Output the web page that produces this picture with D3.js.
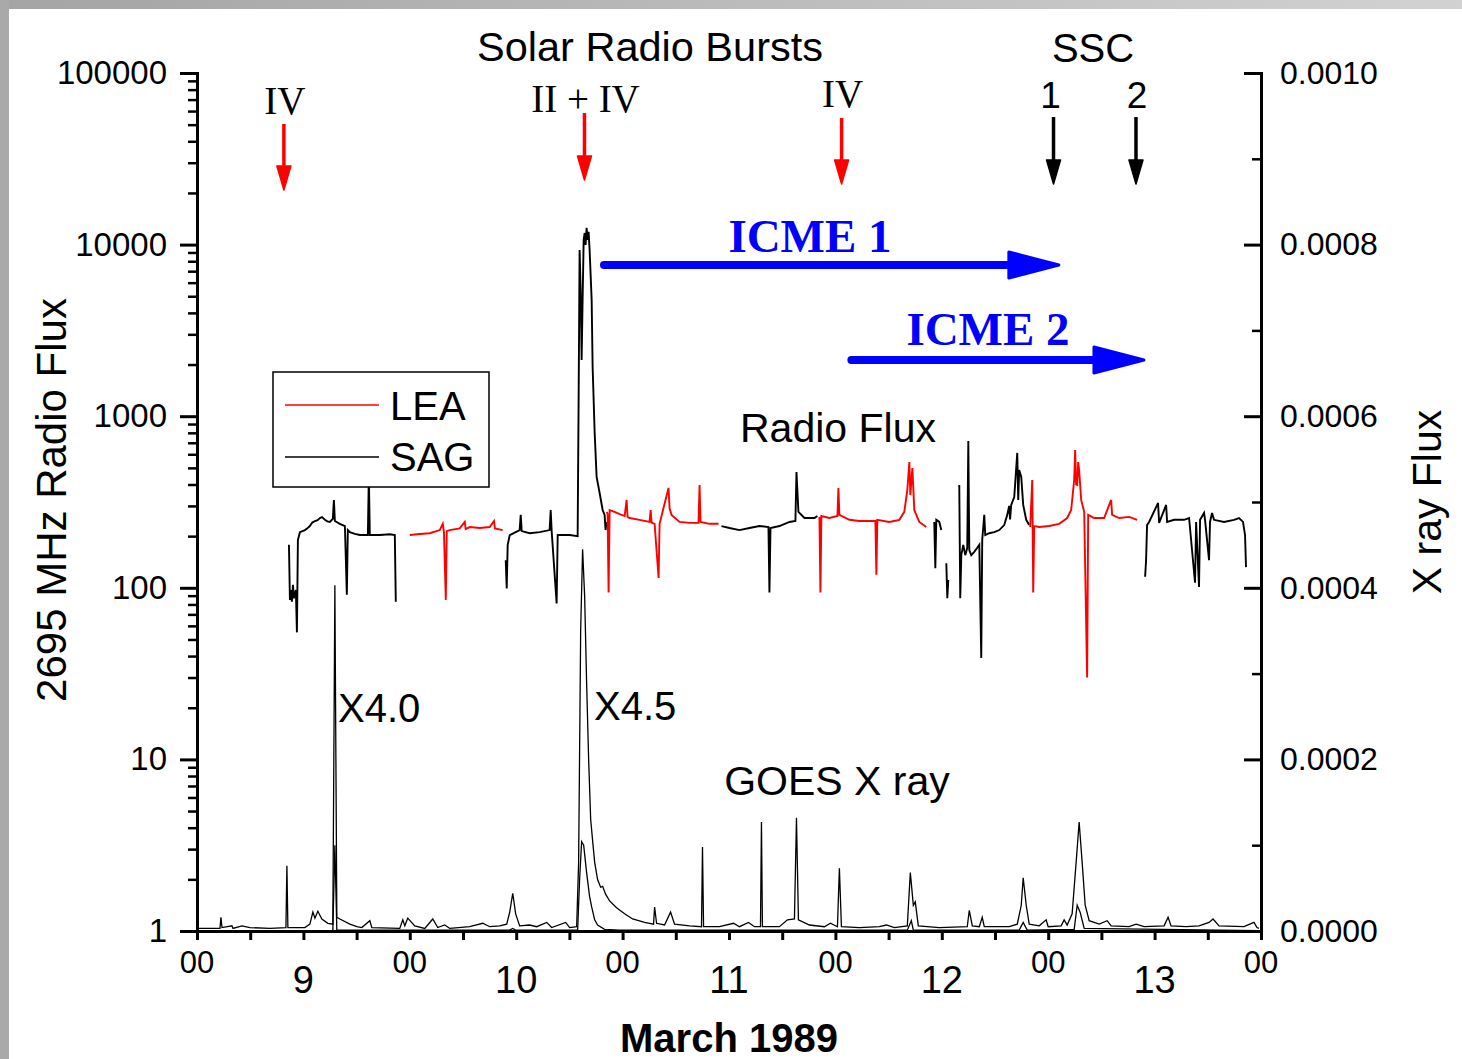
<!DOCTYPE html>
<html>
<head>
<meta charset="utf-8">
<script src="https://cdn.jsdelivr.net/npm/d3@7"></script>
<style>
  body { margin: 0; background: #fff; }
  svg text { font-family: "Liberation Sans", Arial, sans-serif; fill: #000; }
  svg text.serif { font-family: "Liberation Serif", "Times New Roman", serif; }
</style>
</head>
<body>
<svg id="chart"></svg>
<script>
// hours since 1989-03-08 00 UT, 2695 MHz flux (sfu)
const sagSegments = [
  [[10.37,178],[10.48,85],[10.59,97],[10.70,83],[10.82,104],[10.93,87],[11.15,97],[11.27,55],[11.38,190],[11.61,211],
   [12.17,217],[12.45,222],[12.73,229],[13.0,240],[13.30,245],[13.6,248],[13.86,255],[14.1,258],[14.42,249],[14.7,244],
   [14.99,242],[15.32,252],[15.44,325],[15.55,245],[16.11,236],[16.68,229],[16.90,91],[17.01,217],[17.24,211],[17.80,206],
   [18.37,203],[19.27,203],[19.38,450],[19.49,203],[20.62,203],[21.75,205],[22.31,203],[22.42,83]],
  [[34.82,145],[34.93,99],[35.04,178],[35.27,203],[36.39,217],[36.51,266],[36.62,214],[37.52,208],[38.65,211],[39.77,217],
   [39.89,284],[40.00,214],[40.56,81],[40.68,203],[42.03,203],[42.93,200],[43.04,1243],[43.15,9300],[43.27,5435],[43.38,2128],
   [43.49,4750],[43.61,10650],[43.72,11690],[43.83,9950],[43.94,12530],[44.06,10650],[44.17,11880],[44.28,9300],[44.51,4750],
   [44.62,1936],[44.85,798],[45.07,443],[45.41,357],[45.75,284],[45.97,266],[46.08,217],[46.20,242]],
  [[59.15,229],[60.06,223],[61.18,217],[62.31,223],[63.44,229],[64.45,226],[64.56,94],[64.68,223],[65.69,229],[66.82,242],
   [67.49,245],[67.61,473],[67.83,277],[68.51,255],[69.63,255],[69.97,262]],
  [[83.15,242],[83.27,130],[83.38,249],[83.72,242],[83.94,217]],
  [[84.51,139],[84.62,87],[84.73,111]],
  [[85.97,397],[86.08,87],[86.20,155],[86.42,178],[86.65,155],[86.87,171],[86.99,718],[87.10,166],[87.32,155],[87.66,162],
   [88.00,171],[88.23,178],[88.45,39],[88.56,190],[88.79,266],[88.90,203],[89.35,208],[89.92,211],[90.48,217],[91.04,232],
   [91.38,266],[91.6,300],[91.7,250],[91.83,304],[92.17,338],[92.51,611],[92.62,325],[92.73,486],[92.96,443],[93.18,304],
   [93.52,249],[93.86,232]],
  [[106.93,116],[107.04,145],[107.15,232],[107.38,242],[108.39,312],[108.51,239],[109.30,304],[109.41,242],[110.20,249],
   [111.32,249],[111.89,255],[112.56,107],[112.68,242],[113.01,101],[113.13,249],[113.58,273],[113.69,249],[114.14,145],
   [114.25,242],[114.48,273],[114.70,249],[115.83,242],[116.96,249],[117.52,255],[117.97,242],[118.20,203],[118.31,132]]
];

const leaSegments = [
  [[24.00,203],[25.13,206],[26.25,208],[27.38,217],[27.72,236],[27.85,211],[28.06,85],[28.17,214],[28.51,217],[29.63,222],
   [30.20,242],[30.30,220],[30.76,226],[31.89,223],[33.01,226],[33.50,245],[33.60,222],[34.48,217]],
  [[46.20,277],[46.31,270],[46.42,94],[46.54,284],[47.10,277],[47.66,269],[48.23,262],[48.45,325],[48.56,259],[48.79,255],
   [49.92,249],[51.04,242],[51.16,284],[51.27,240],[51.61,236],[52.06,114],[52.17,236],[53.18,382],[53.30,290],[53.52,266],
   [54.42,242],[55.55,239],[56.56,239],[56.68,397],[56.79,242],[57.80,236],[58.82,236]],
  [[70.20,259],[70.31,94],[70.42,262],[71.32,255],[72.23,262],[72.34,382],[72.45,266],[73.58,249],[74.70,245],[75.83,245],
   [76.51,245],[76.62,119],[76.73,249],[78.08,242],[79.21,249],[79.77,277],[80.11,371],[80.34,541],[80.45,347],[80.68,499],
   [80.90,284],[81.46,242],[82.25,226]],
  [[93.97,226],[94.20,425],[94.31,94],[94.42,229],[94.99,226],[96.11,229],[97.24,236],[98.14,255],[98.59,284],[98.93,425],
   [99.04,635],[99.15,400],[99.27,397],[99.38,540],[99.49,486],[99.72,325],[100.06,277],[100.39,30],[100.51,266],[101.18,255],
   [102.31,255],[103.10,325],[103.21,266],[104.00,255],[105.13,259],[106.03,249]]
];

// GOES X-ray flux (W/m2), long and short channel
const goesLong = [
  [0,3e-6],[2.03,3e-6],[2.59,3e-6],[2.70,1.6e-5],[2.82,4e-6],[3.94,6e-6],[4.06,3e-6],[5.07,6e-6],[5.97,4e-6],[8.23,3e-6],
  [10.03,4e-6],[10.14,7.6e-5],[10.25,4e-6],[12.17,4e-6],[12.73,8e-6],[13.07,2.2e-5],[13.30,1.5e-5],[13.63,2.3e-5],[14.08,1.4e-5],
  [14.76,9e-6],[15.32,8e-6],[15.55,4.03e-4],[15.77,1.6e-5],[16.11,1.4e-5],[17.24,8e-6],[18.03,5e-6],[18.59,4e-6],[19.49,1.2e-5],
  [19.72,4e-6],[22.87,3e-6],[23.21,1.3e-5],[23.44,6e-6],[23.77,1.5e-5],[24.56,6e-6],[25.69,3e-6],[26.59,1.4e-5],[27.15,4e-6],
  [27.94,7e-6],[28.51,3e-6],[30.76,5e-6],[32.23,9e-6],[33.01,5e-6],[34.14,6e-6],[34.93,8e-6],[35.27,2.2e-5],[35.61,4.4e-5],
  [35.94,2.0e-5],[36.39,6e-6],[37.52,7e-6],[38.31,5e-6],[39.44,1.0e-5],[40.00,4e-6],[41.58,1.0e-5],[42.03,4e-6],[42.82,5e-6],
  [43.04,8e-5],[43.27,3.5e-4],[43.49,4.45e-4],[43.72,3.9e-4],[43.94,2.9e-4],[44.17,2.0e-4],[44.40,1.3e-4],[44.62,1.05e-4],
  [44.85,8e-5],[45.18,6e-5],[45.52,5.1e-5],[45.75,5.2e-5],[46.08,4.3e-5],[46.54,3.5e-5],[47.32,2.7e-5],[48.23,2.0e-5],
  [49.13,1.4e-5],[50.48,1.0e-5],[51.49,8e-6],[51.61,2.8e-5],[51.83,9e-6],[52.73,7e-6],[53.41,2.2e-5],[53.86,8e-6],[55.55,6e-6],
  [56.90,5e-6],[57.01,9.8e-5],[57.13,5e-6],[58.93,5e-6],[60.51,9e-6],[61.18,5e-6],[62.20,1.0e-5],[62.87,5e-6],[63.55,5e-6],
  [63.66,1.27e-4],[63.77,5e-6],[65.69,5e-6],[66.59,1.3e-5],[67.38,1.4e-5],[67.61,1.32e-4],[67.83,1.3e-5],[69.07,7e-6],
  [70.76,5e-6],[71.44,9e-6],[72.23,5e-6],[72.45,7.3e-5],[72.68,5e-6],[74.70,4e-6],[76.96,5e-6],[77.75,7e-6],[78.65,4e-6],
  [80.11,6e-6],[80.45,6.8e-5],[80.79,3.0e-5],[81.01,3.4e-5],[81.35,6e-6],[83.72,4e-6],[86.87,5e-6],[87.10,2.4e-5],[87.44,6e-6],
  [88.23,5e-6],[88.56,1.6e-5],[88.79,5e-6],[91.61,5e-6],[92.51,8e-6],[92.96,3e-5],[93.18,6.2e-5],[93.52,3e-5],[93.86,8e-6],
  [94.99,6e-6],[95.77,1.3e-5],[96.00,5e-6],[97.46,6e-6],[97.80,1.3e-5],[98.14,7e-6],[98.70,2e-5],[99.15,8e-5],[99.49,1.27e-4],
  [99.83,8e-5],[100.17,3e-5],[100.62,1.2e-5],[101.75,8e-6],[102.65,1.2e-5],[103.10,6e-6],[105.13,5e-6],[105.92,8e-6],
  [106.82,5e-6],[109.07,6e-6],[109.52,1.6e-5],[109.86,6e-6],[111.55,5e-6],[113.01,6e-6],[114.14,1.0e-5],[114.59,1.4e-5],
  [115.27,6e-6],[118.08,5e-6],[119.21,1.0e-5],[119.55,4e-6],[119.77,3e-6]
];

const goesShort = [
  [0,5e-7],[15.32,5e-7],[15.55,1.0e-4],[15.77,1e-6],[35.27,1e-6],[35.61,3e-6],[35.94,1e-6],[42.93,1e-6],[43.15,6e-5],
  [43.38,1.04e-4],[43.61,1.0e-4],[43.94,6.8e-5],[44.28,4e-5],[44.51,2.8e-5],[44.85,1.3e-5],[45.18,7e-6],[45.97,2e-6],
  [47.66,1e-6],[80.11,1e-6],[80.56,1.2e-5],[80.79,1e-6],[92.73,1e-6],[93.18,1.0e-5],[93.63,1e-6],[98.93,2e-6],[99.27,3.0e-5],
  [99.60,2.2e-5],[100.06,3e-6],[119.77,5e-7]
];

const radioTicks = [1, 10, 100, 1000, 10000, 100000];
const xrayTicks = [0, 0.0002, 0.0004, 0.0006, 0.0008, 0.0010];
const xrayMinorTicks = [0.0001, 0.0003, 0.0005, 0.0007, 0.0009];
const midnightHours = [0, 24, 48, 72, 96, 120];
const dayHours = [12, 36, 60, 84, 108];
const dayLabels = ['9', '10', '11', '12', '13'];

const burstHours = [9.8, 43.7, 72.7];
const burstLabels = ['IV', 'II + IV', 'IV'];
const sscHours = [96.6, 105.9];
const sscLabels = ['1', '2'];
const icmeStart = [45.9, 73.8];
const icmeEnd = [97.2, 106.8];
const icmeLabels = ['ICME 1', 'ICME 2'];

const width = 1462, height = 1059;
const margin = { top: 73, right: 201, bottom: 128, left: 197 };

const svg = d3.select('#chart').attr('width', width).attr('height', height);

// grey frame of the screenshot
const grad = svg.append('defs').append('linearGradient').attr('id', 'frame');
grad.append('stop').attr('offset', '0%').attr('stop-color', '#a4a4a4');
grad.append('stop').attr('offset', '100%').attr('stop-color', '#d2d2d2');
svg.append('rect').attr('width', width).attr('height', 9).attr('fill', 'url(#frame)');
svg.append('rect').attr('width', 9).attr('height', height).attr('fill', '#a9a9a9');

const x = d3.scaleLinear().domain([0, 120]).range([margin.left, width - margin.right]);
const yRadio = d3.scaleLog().domain([1, 100000]).range([height - margin.bottom, margin.top]);
const yXray = d3.scaleLinear().domain([0, 0.001]).range([height - margin.bottom, margin.top]);
const y0 = height - margin.bottom;

// data lines
const xrayLine = d3.line().x(d => x(d[0])).y(d => yXray(d[1]));
const radioLine = d3.line().x(d => x(d[0])).y(d => yRadio(d[1]));

const plot = svg.append('g');
[goesShort, goesLong].forEach(s => {
  plot.append('path').attr('d', xrayLine(s))
    .attr('fill', 'none').attr('stroke', '#000').attr('stroke-width', 1.3);
});
sagSegments.forEach(s => {
  plot.append('path').attr('d', radioLine(s))
    .attr('fill', 'none').attr('stroke', '#000').attr('stroke-width', 1.9);
});
leaSegments.forEach(s => {
  plot.append('path').attr('d', radioLine(s))
    .attr('fill', 'none').attr('stroke', '#ff0000').attr('stroke-width', 1.9);
});

// axes
function styleAxis(g, size) {
  g.select('.domain').attr('stroke-width', 3).attr('stroke-linecap', 'square');
  g.selectAll('.tick line').attr('stroke-width', 3);
  g.selectAll('.tick text').style('font-size', size + 'px');
}

const minorRadio = [];
radioTicks.slice(0, -1).forEach(d => { for (let k = 2; k < 10; k++) minorRadio.push(d * k); });

svg.append('g').attr('transform', `translate(${margin.left},0)`)
  .call(d3.axisLeft(yRadio).tickValues(minorRadio).tickFormat('').tickSize(9).tickSizeOuter(0))
  .call(g => g.select('.domain').remove())
  .call(g => g.selectAll('.tick line').attr('stroke-width', 2.5));

svg.append('g').attr('transform', `translate(${margin.left},0)`)
  .call(d3.axisLeft(yRadio).tickValues(radioTicks).tickFormat(d3.format('d')).tickSize(17).tickPadding(13).tickSizeOuter(0))
  .call(g => styleAxis(g, 33));

svg.append('g').attr('transform', `translate(${width - margin.right},0)`)
  .call(d3.axisRight(yXray).tickValues(xrayMinorTicks).tickFormat('').tickSize(-9).tickSizeOuter(0))
  .call(g => g.select('.domain').remove())
  .call(g => g.selectAll('.tick line').attr('stroke-width', 2.5));

svg.append('g').attr('transform', `translate(${width - margin.right},0)`)
  .call(d3.axisRight(yXray).tickValues(xrayTicks).tickFormat(d3.format('.4f')).tickSize(-17).tickPadding(19).tickSizeOuter(0))
  .call(g => styleAxis(g, 32));

svg.append('g').attr('transform', `translate(0,${y0})`)
  .call(d3.axisBottom(x).tickValues(d3.range(0, 121, 6)).tickFormat('').tickSize(9).tickSizeOuter(0))
  .call(g => styleAxis(g, 30));

svg.append('g').selectAll('text').data(midnightHours).join('text')
  .attr('x', d => x(d)).attr('y', y0 + 42)
  .attr('text-anchor', 'middle').style('font-size', '31px').text('00');

svg.append('g').selectAll('text').data(dayHours).join('text')
  .attr('x', d => x(d)).attr('y', y0 + 62)
  .attr('text-anchor', 'middle').style('font-size', '38px')
  .text((d, i) => dayLabels[i]);

svg.append('text').attr('x', 729).attr('y', 1052).attr('text-anchor', 'middle')
  .style('font-size', '40px').style('font-weight', 'bold').text('March 1989');

svg.append('text').attr('transform', 'translate(66,500) rotate(-90)').attr('text-anchor', 'middle')
  .style('font-size', '42px').text('2695 MHz Radio Flux');

svg.append('text').attr('transform', 'translate(1441,502) rotate(-90)').attr('text-anchor', 'middle')
  .style('font-size', '41px').text('X ray Flux');

// legend
const legend = svg.append('g').attr('transform', 'translate(273,372)');
legend.append('rect').attr('width', 216).attr('height', 115)
  .attr('fill', '#fff').attr('stroke', '#000').attr('stroke-width', 1.5);
[['LEA', '#ff0000'], ['SAG', '#000']].forEach(([name, c], i) => {
  legend.append('line').attr('x1', 12).attr('x2', 106).attr('y1', 33 + i * 52).attr('y2', 33 + i * 52)
    .attr('stroke', c).attr('stroke-width', 1.5);
  legend.append('text').attr('x', 117).attr('y', 48 + i * 51).style('font-size', '40px').text(name);
});

// annotations
svg.append('text').attr('x', 650).attr('y', 61).attr('text-anchor', 'middle')
  .style('font-size', '41.5px').text('Solar Radio Bursts');
svg.append('text').attr('x', 1093).attr('y', 62).attr('text-anchor', 'middle')
  .style('font-size', '40px').text('SSC');

function downArrow(xp, top, tip, color) {
  svg.append('line').attr('x1', xp).attr('x2', xp).attr('y1', top).attr('y2', tip - 18)
    .attr('stroke', color).attr('stroke-width', 3.5);
  svg.append('path')
    .attr('d', `M${xp - 7},${tip - 24}L${xp + 7},${tip - 24}L${xp},${tip}Z`)
    .attr('fill', color).attr('stroke', color).attr('stroke-width', 1.5).attr('stroke-linejoin', 'round');
}

const burstTextY = [114, 112, 107];
const burstTop = [124, 113, 118];
const burstTip = [190, 180, 184];
burstHours.forEach((h, i) => {
  svg.append('text').attr('class', 'serif').attr('x', x(h) + 1).attr('y', burstTextY[i])
    .attr('text-anchor', 'middle').style('font-size', '39px').text(burstLabels[i]);
  downArrow(x(h), burstTop[i], burstTip[i], '#ff0000');
});

sscHours.forEach((h, i) => {
  svg.append('text').attr('x', x(h) - 3 + i * 4).attr('y', 108)
    .attr('text-anchor', 'middle').style('font-size', '37px').text(sscLabels[i]);
  downArrow(x(h), 117, 184, '#000');
});

const icmeY = [265, 360];
icmeStart.forEach((h, i) => {
  const x1 = x(h), x2 = x(icmeEnd[i]), yy = icmeY[i];
  svg.append('line').attr('x1', x1).attr('x2', x2 - 40).attr('y1', yy).attr('y2', yy)
    .attr('stroke', '#0000ff').attr('stroke-width', 8).attr('stroke-linecap', 'round');
  svg.append('path')
    .attr('d', `M${x2 - 50},${yy - 13}L${x2},${yy}L${x2 - 50},${yy + 13}Z`)
    .attr('fill', '#0000ff').attr('stroke', '#0000ff').attr('stroke-width', 3).attr('stroke-linejoin', 'round');
});
svg.append('text').attr('class', 'serif').attr('x', 810).attr('y', 252).attr('text-anchor', 'middle')
  .style('font-size', '47px').style('font-weight', 'bold').style('fill', '#0000ff').text(icmeLabels[0]);
svg.append('text').attr('class', 'serif').attr('x', 988).attr('y', 345).attr('text-anchor', 'middle')
  .style('font-size', '47px').style('font-weight', 'bold').style('fill', '#0000ff').text(icmeLabels[1]);

svg.append('text').attr('x', 838).attr('y', 442).attr('text-anchor', 'middle')
  .style('font-size', '41px').text('Radio Flux');
svg.append('text').attr('x', 837).attr('y', 795).attr('text-anchor', 'middle')
  .style('font-size', '41px').text('GOES X ray');
svg.append('text').attr('x', 338).attr('y', 722).style('font-size', '40px').text('X4.0');
svg.append('text').attr('x', 594).attr('y', 720).style('font-size', '40px').text('X4.5');
</script>
</body>
</html>
